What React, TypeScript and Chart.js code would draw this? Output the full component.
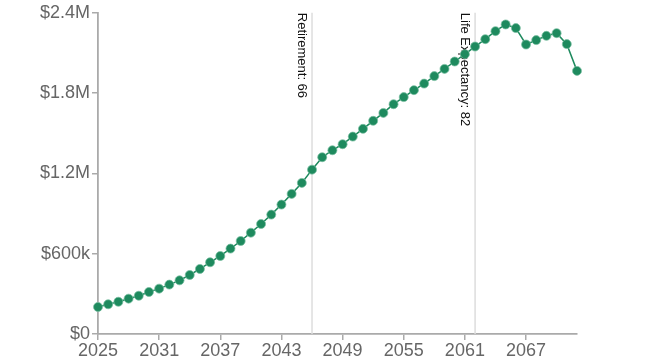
import React, { useEffect, useRef } from "react";
import { Chart, registerables } from "chart.js";

Chart.register(...registerables);

const years: number[] = [
  2025, 2026, 2027, 2028, 2029, 2030, 2031, 2032, 2033, 2034, 2035, 2036,
  2037, 2038, 2039, 2040, 2041, 2042, 2043, 2044, 2045, 2046, 2047, 2048,
  2049, 2050, 2051, 2052, 2053, 2054, 2055, 2056, 2057, 2058, 2059, 2060,
  2061, 2062, 2063, 2064, 2065, 2066, 2067, 2068, 2069, 2070, 2071, 2072,
];

const balances: number[] = [
  202000, 222000, 241000, 264000, 286000, 314000, 339000, 369000, 401000,
  441000, 486000, 536000, 583000, 638000, 695000, 757000, 822000, 892000,
  967000, 1047000, 1129000, 1228000, 1321000, 1373000, 1418000, 1475000,
  1533000, 1593000, 1652000, 1717000, 1770000, 1822000, 1871000, 1927000,
  1981000, 2036000, 2091000, 2148000, 2203000, 2263000, 2313000, 2286000,
  2163000, 2196000, 2228000, 2248000, 2166000, 1966000,
];

const xTicks: number[] = [2025, 2031, 2037, 2043, 2049, 2055, 2061, 2067];
const yTicks: number[] = [0, 600000, 1200000, 1800000, 2400000];
const yTickLabels: string[] = ["$0", "$600k", "$1.2M", "$1.8M", "$2.4M"];

const markerYears: number[] = [2046, 2062];
const markerLabels: string[] = ["Retirement: 66", "Life Expectancy: 82"];

const markerPlugin = {
  id: "markers",
  beforeDatasetsDraw(chart: any) {
    const { ctx, chartArea, scales } = chart;
    ctx.save();
    markerYears.forEach((yr, i) => {
      const x = scales.x.getPixelForValue(yr);
      ctx.strokeStyle = "#dddddd";
      ctx.lineWidth = 1.5;
      ctx.beginPath();
      ctx.moveTo(x, chartArea.top);
      ctx.lineTo(x, chartArea.bottom);
      ctx.stroke();
      ctx.save();
      ctx.translate(x - 4, chartArea.top);
      ctx.rotate(Math.PI / 2);
      ctx.fillStyle = "#111111";
      ctx.font = "13px 'Liberation Sans', Arial, sans-serif";
      ctx.textAlign = "left";
      ctx.textBaseline = "top";
      ctx.fillText(markerLabels[i], 0, 0);
      ctx.restore();
    });
    ctx.restore();
  },
};

export default function App() {
  const ref = useRef<HTMLCanvasElement | null>(null);
  useEffect(() => {
    if (!ref.current) return;
    const green = "#1e8a5e";
    const chart = new Chart(ref.current, {
      type: "line",
      data: {
        datasets: [
          {
            data: years.map((y, i) => ({ x: y, y: balances[i] })),
            borderColor: green,
            backgroundColor: green,
            borderWidth: 1.5,
            pointRadius: 4.5,
            pointBorderWidth: 0.8,
            pointBorderColor: "rgba(120,190,160,0.9)",
            pointBackgroundColor: green,
            tension: 0,
            clip: false,
          } as any,
        ],
      },
      options: {
        animation: false,
        responsive: false,
        maintainAspectRatio: false,
        layout: { padding: { top: 2, right: 78, bottom: 0, left: 0 } },
        plugins: { legend: { display: false }, tooltip: { enabled: false } },
        scales: {
          x: {
            type: "linear",
            min: 2025,
            max: 2072,
            afterBuildTicks: (scale: any) => {
              scale.ticks = xTicks.map((v) => ({ value: v }));
            },
            afterFit: (scale: any) => {
              scale.height = 29;
            },
            ticks: {
              color: "#666666",
              font: { size: 18, family: "'Liberation Sans', Arial, sans-serif" },
              padding: 0,
              maxRotation: 0,
              autoSkip: false,
              callback: (v: any) => String(v),
            },
            grid: { display: true, drawOnChartArea: false, drawTicks: true, tickLength: 6, color: "#aaaaaa", lineWidth: 1.5 },
            border: { display: true, color: "#aaaaaa", width: 1.8 },
          },
          y: {
            type: "linear",
            min: 0,
            max: 2400000,
            afterBuildTicks: (scale: any) => {
              scale.ticks = yTicks.map((v) => ({ value: v }));
            },
            afterFit: (scale: any) => {
              scale.width = 98;
            },
            ticks: {
              color: "#666666",
              font: { size: 18, family: "'Liberation Sans', Arial, sans-serif" },
              padding: 2,
              autoSkip: false,
              callback: (v: any) => {
                const idx = yTicks.indexOf(Number(v));
                return idx >= 0 ? yTickLabels[idx] : "";
              },
            },
            grid: { display: true, drawOnChartArea: false, drawTicks: true, tickLength: 6, color: "#aaaaaa", lineWidth: 1.5 },
            border: { display: true, color: "#aaaaaa", width: 1.8 },
          },
        },
      },
      plugins: [markerPlugin],
    });
    return () => chart.destroy();
  }, []);
  return (
    <div style={{ position: "fixed", left: 0, top: 0, width: 655, height: 363, background: "#fff" }}>
      <canvas ref={ref} width={655} height={363} style={{ display: "block" }} />
    </div>
  );
}
